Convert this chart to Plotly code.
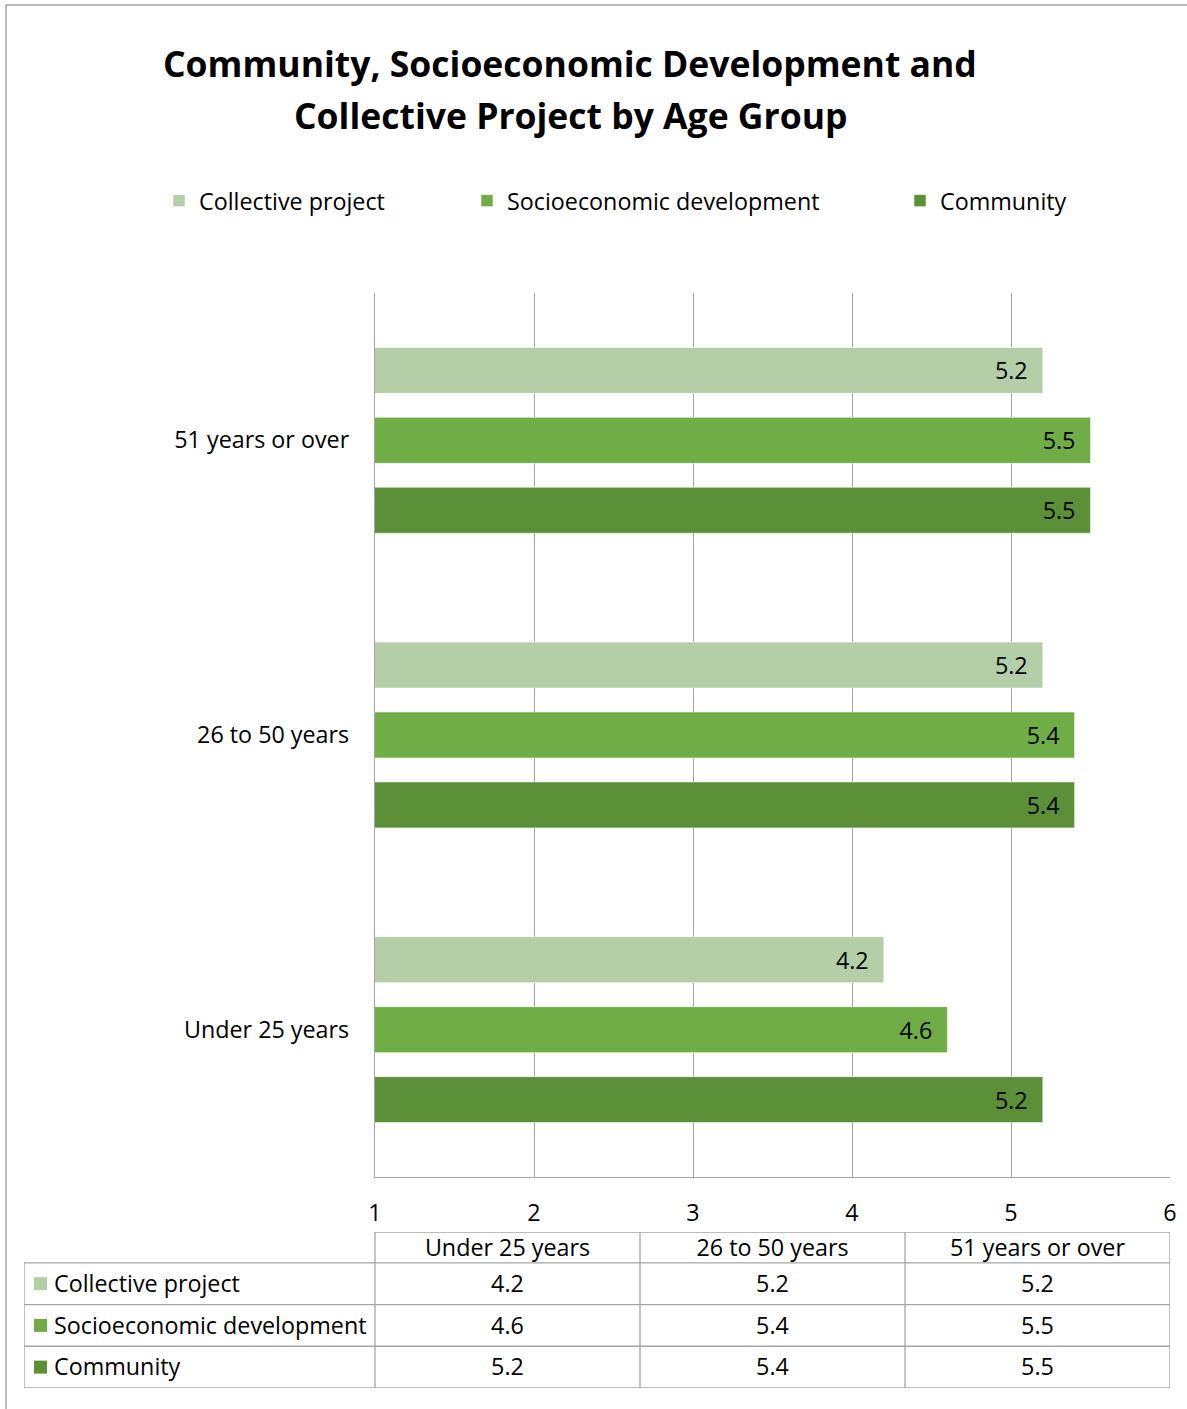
import plotly.graph_objects as go

# Mean scores by age group for each dimension
age_groups = ["Under 25 years", "26 to 50 years", "51 years or over"]
collective_project = [4.2, 5.2, 5.2]
socioeconomic_development = [4.6, 5.4, 5.5]
community = [5.2, 5.4, 5.5]

series_names = ["Collective project", "Socioeconomic development", "Community"]
series_values = [collective_project, socioeconomic_development, community]
series_colors = ["#B4CFA8", "#70AD47", "#5B9039"]

W, H = 1187, 1409
FONT = "Open Sans"
FS = 23.3
GRID = "#A6A6A6"

# plot area in pixels (margins are zero, so paper == page)
px_left, px_right, px_top, px_bottom = 375, 1170, 293, 1177

# data table geometry in pixels
tbl_left, tbl_top, tbl_bottom = 24, 1232, 1388
name_col_px, value_col_px = 351, 265
header_px, row_px = 31, 42


def fx(px):
    return px / W


def fy(py):
    return 1 - py / H


fig = go.Figure()

# ---- bar chart -------------------------------------------------------------
legend_ids = ["legend", "legend2", "legend3"]
for idx in [2, 1, 0]:  # added bottom-to-top within each group
    fig.add_trace(go.Bar(
        y=age_groups,
        x=series_values[idx],
        name=series_names[idx],
        orientation="h",
        marker=dict(color=series_colors[idx],
                    line=dict(color="rgba(255,255,255,0.55)", width=1)),
        texttemplate="%{x:.1f}&nbsp;&nbsp;",
        textposition="inside",
        insidetextanchor="end",
        textfont=dict(family=FONT, size=FS, color="#000000"),
        constraintext="none",
        legend=legend_ids[idx],
        hoverinfo="skip",
    ))

# ---- data table on its own axes -------------------------------------------
# x2 units: one value column = 1; columns centred on 0, 1, 2
# y2 units: one body row = 1; rows centred on 0, 1, 2 (downwards)
name_w = name_col_px / value_col_px
head_h = header_px / row_px
n_cols = len(age_groups)
n_rows = len(series_names)
x_left = -0.5 - name_w
x_right = n_cols - 0.5
y_head_top = -0.5 - head_h
y_bottom = n_rows - 0.5
text_nudge = 0.06  # optical centring of text within a row

# header labels
fig.add_trace(go.Scatter(
    x=list(range(n_cols)), y=[-0.5 - head_h / 2 + text_nudge] * n_cols,
    text=age_groups, mode="text", textposition="middle center",
    textfont=dict(family=FONT, size=FS, color="#000000"),
    xaxis="x2", yaxis="y2", showlegend=False, hoverinfo="skip",
))
# values
for s in range(n_rows):
    fig.add_trace(go.Scatter(
        x=list(range(n_cols)), y=[s + text_nudge] * n_cols,
        text=[f"{v:.1f}" for v in series_values[s]],
        mode="text", textposition="middle center",
        textfont=dict(family=FONT, size=FS, color="#000000"),
        xaxis="x2", yaxis="y2", showlegend=False, hoverinfo="skip",
    ))
# series keys and names
fig.add_trace(go.Scatter(
    x=[x_left + 16.5 / value_col_px] * n_rows, y=list(range(n_rows)),
    mode="markers",
    marker=dict(symbol="square", size=13, color=series_colors, line=dict(width=0)),
    xaxis="x2", yaxis="y2", showlegend=False, hoverinfo="skip",
))
fig.add_trace(go.Scatter(
    x=[x_left + 30 / value_col_px] * n_rows,
    y=[r + text_nudge for r in range(n_rows)],
    text=series_names, mode="text", textposition="middle right",
    textfont=dict(family=FONT, size=FS, color="#000000"),
    xaxis="x2", yaxis="y2", showlegend=False, hoverinfo="skip",
))

# table rules
tbl_line = dict(color=GRID, width=1.3)
table_shapes = [dict(type="line", xref="x2", yref="y2",
                     x0=-0.5, x1=x_right, y0=y_head_top, y1=y_head_top, line=tbl_line)]
for r in range(n_rows + 1):
    yb = r - 0.5
    table_shapes.append(dict(type="line", xref="x2", yref="y2",
                             x0=x_left, x1=x_right, y0=yb, y1=yb, line=tbl_line))
table_shapes.append(dict(type="line", xref="x2", yref="y2",
                         x0=x_left, x1=x_left, y0=-0.5, y1=y_bottom, line=tbl_line))
for c in range(n_cols + 1):
    xb = c - 0.5
    table_shapes.append(dict(type="line", xref="x2", yref="y2",
                             x0=xb, x1=xb, y0=y_head_top, y1=y_bottom, line=tbl_line))

# ---- legends, title, frame ---------------------------------------------------
legend_text_x = [199, 507, 940]
legend_common = dict(
    orientation="h", xref="paper", yref="paper",
    yanchor="middle", xanchor="left",
    font=dict(family=FONT, size=FS, color="#000000"),
    bgcolor="rgba(0,0,0,0)", itemclick=False, itemdoubleclick=False,
)

title_lines = ["Community, Socioeconomic Development and",
               "Collective Project by Age Group"]
title_y = [63, 115]

frame_line = dict(color="#A6A6A6", width=1.5)
frame_shapes = [
    dict(type="line", xref="paper", yref="paper",
         x0=fx(6), x1=1, y0=fy(5), y1=fy(5), line=frame_line),
    dict(type="line", xref="paper", yref="paper",
         x0=fx(6), x1=fx(6), y0=0, y1=fy(5), line=frame_line),
]

hidden_axis = dict(visible=False, showgrid=False, zeroline=False, fixedrange=True)

fig.update_layout(
    width=W, height=H,
    margin=dict(l=0, r=0, t=0, b=0, autoexpand=False),
    paper_bgcolor="white", plot_bgcolor="white",
    barmode="group", bargap=0.288, bargroupgap=0.343,
    showlegend=True,
    legend=dict(x=fx(legend_text_x[0] - 40), y=fy(201), **legend_common),
    legend2=dict(x=fx(legend_text_x[1] - 40), y=fy(201), **legend_common),
    legend3=dict(x=fx(legend_text_x[2] - 40), y=fy(201), **legend_common),
    annotations=[
        dict(text=f"<b>{t}</b>", xref="paper", yref="paper",
             x=fx(570), y=fy(ty), xanchor="center", yanchor="middle",
             showarrow=False,
             font=dict(family=FONT, size=35.5, color="#000000"))
        for t, ty in zip(title_lines, title_y)
    ],
    xaxis=dict(
        domain=[fx(px_left), fx(px_right)],
        range=[1, 6], dtick=1, tick0=1,
        showgrid=True, gridcolor=GRID, gridwidth=1.3,
        showline=True, linecolor=GRID, linewidth=1.3,
        zeroline=False, ticks="", ticklabelstandoff=15,
        tickfont=dict(family=FONT, size=FS, color="#000000"),
        fixedrange=True,
    ),
    yaxis=dict(
        domain=[fy(px_bottom), fy(px_top)],
        range=[-0.5, 2.5],
        showgrid=False,
        showline=True, linecolor=GRID, linewidth=1.3,
        ticks="", ticklabelstandoff=20,
        tickfont=dict(family=FONT, size=FS, color="#000000"),
        fixedrange=True,
    ),
    xaxis2=dict(domain=[fx(tbl_left), fx(px_right)], range=[x_left, x_right],
                anchor="y2", **hidden_axis),
    yaxis2=dict(domain=[fy(tbl_bottom), fy(tbl_top)], range=[y_bottom, y_head_top],
                anchor="x2", **hidden_axis),
    shapes=frame_shapes + table_shapes,
)

fig.write_html("out.html")
